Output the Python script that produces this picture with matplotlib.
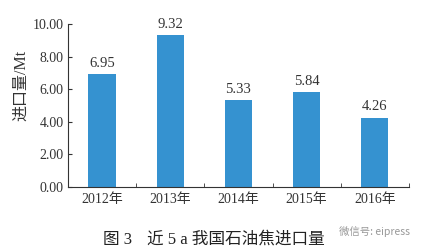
import matplotlib
matplotlib.use('Agg')
import matplotlib.pyplot as plt
import numpy as np

years = ['2012年', '2013年', '2014年', '2015年', '2016年']
imports = [6.95, 9.32, 5.33, 5.84, 4.26]
y_ticks = [0, 2, 4, 6, 8, 10]

plt.rcParams['font.family'] = ['Liberation Serif', 'Noto Sans CJK SC']

fig = plt.figure(figsize=(4.22, 2.52), dpi=100)
ax = fig.add_axes([0.161, 0.258, 0.808, 0.647])

x = np.arange(len(years))
bars = ax.bar(x, imports, width=0.4, color='#3592d0')
for xi, v in zip(x, imports):
    ax.text(xi, v + 0.25, f'{v:.2f}', ha='center', va='bottom', fontsize=10.5, color='#333333')

ax.set_xlim(-0.5, len(years) - 0.5)
ax.set_ylim(0, 10)
ax.set_yticks(y_ticks)
ax.set_yticklabels([f'{t:.2f}' for t in y_ticks], fontsize=10, color='#333333')
ax.set_xticks(x)
ax.set_xticklabels(years, fontsize=10, color='#333333')
ax.set_xticks(np.arange(len(years) + 1) - 0.5, minor=True)
ax.tick_params(axis='x', which='major', length=0, pad=4)
ax.tick_params(axis='x', which='minor', direction='in', length=3, color='#333333')
ax.tick_params(axis='y', direction='in', length=3, color='#333333', pad=3)
ax.set_ylabel('进口量/Mt', fontsize=11.5, color='#333333')
ax.yaxis.set_label_coords(-0.115, 0.62)

for s in ['top', 'right']:
    ax.spines[s].set_visible(False)
for s in ['left', 'bottom']:
    ax.spines[s].set_color('#333333')
    ax.spines[s].set_linewidth(0.8)

fig.text(0.244, 0.048, '图 3', fontsize=12, color='#222222', ha='left', va='center')
fig.text(0.348, 0.048, '近 5 a 我国石油焦进口量', fontsize=12, color='#222222',
         ha='left', va='center')
fig.text(0.972, 0.08, '微信号: eipress', fontsize=7.5, color='#999999',
         ha='right', va='center', family=['Noto Sans CJK SC', 'DejaVu Sans'])

plt.savefig('out.png', dpi=100)
plt.close()
